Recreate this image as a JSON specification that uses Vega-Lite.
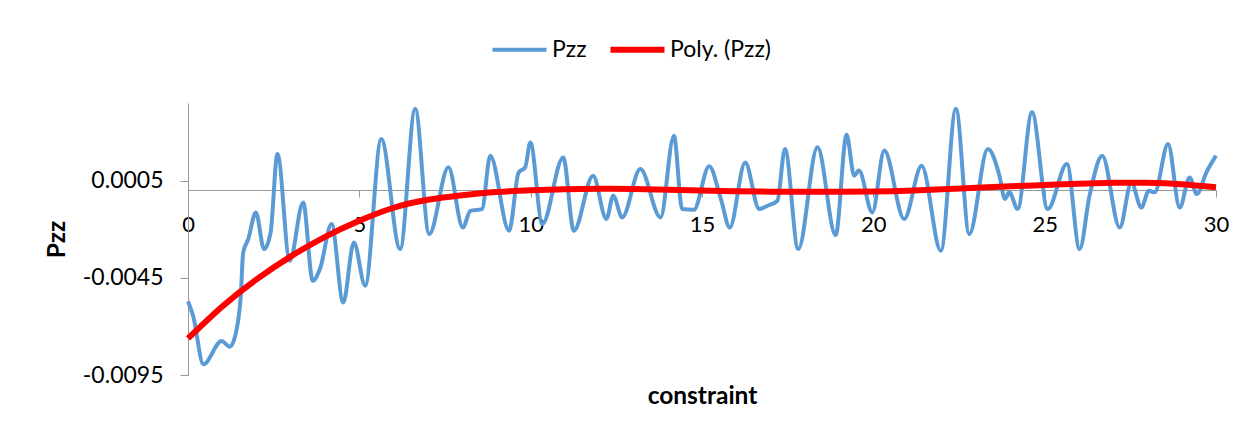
{
  "$schema": "https://vega.github.io/schema/vega-lite/v6.json",
  "autosize": "none",
  "width": 1028,
  "height": 272,
  "padding": {"left": 188, "top": 103, "right": 43, "bottom": 64},
  "background": "white",
  "config": {
    "font": "Lato",
    "view": {"stroke": null},
    "axis": {"grid": false, "domainColor": "#9a9a9a", "tickColor": "#9a9a9a", "labelColor": "#000000", "titleColor": "#000000", "labelFont": "Lato", "titleFont": "Lato"}
  },
  "datasets": {
    "pzz": [
      {"constraint": 0, "value": -0.0057, "series": "Pzz"},
      {"constraint": 0.15, "value": -0.00646, "series": "Pzz"},
      {"constraint": 0.45, "value": -0.00895, "series": "Pzz"},
      {"constraint": 0.98, "value": -0.00775, "series": "Pzz"},
      {"constraint": 1.22, "value": -0.00804, "series": "Pzz"},
      {"constraint": 1.42, "value": -0.00715, "series": "Pzz"},
      {"constraint": 1.54, "value": -0.00543, "series": "Pzz"},
      {"constraint": 1.61, "value": -0.0032, "series": "Pzz"},
      {"constraint": 1.76, "value": -0.0025, "series": "Pzz"},
      {"constraint": 1.98, "value": -0.00113, "series": "Pzz"},
      {"constraint": 2.22, "value": -0.00302, "series": "Pzz"},
      {"constraint": 2.41, "value": -0.00217, "series": "Pzz"},
      {"constraint": 2.61, "value": 0.00188, "series": "Pzz"},
      {"constraint": 2.97, "value": -0.00362, "series": "Pzz"},
      {"constraint": 3.36, "value": -0.00062, "series": "Pzz"},
      {"constraint": 3.64, "value": -0.00465, "series": "Pzz"},
      {"constraint": 3.85, "value": -0.00405, "series": "Pzz"},
      {"constraint": 4.19, "value": -0.00173, "series": "Pzz"},
      {"constraint": 4.53, "value": -0.00577, "series": "Pzz"},
      {"constraint": 4.84, "value": -0.00268, "series": "Pzz"},
      {"constraint": 5.17, "value": -0.0049, "series": "Pzz"},
      {"constraint": 5.64, "value": 0.00265, "series": "Pzz"},
      {"constraint": 6.19, "value": -0.00302, "series": "Pzz"},
      {"constraint": 6.63, "value": 0.0042, "series": "Pzz"},
      {"constraint": 7.04, "value": -0.00225, "series": "Pzz"},
      {"constraint": 7.6, "value": 0.00119, "series": "Pzz"},
      {"constraint": 8.02, "value": -0.00191, "series": "Pzz"},
      {"constraint": 8.24, "value": -0.00105, "series": "Pzz"},
      {"constraint": 8.58, "value": -0.00096, "series": "Pzz"},
      {"constraint": 8.82, "value": 0.00179, "series": "Pzz"},
      {"constraint": 9.37, "value": -0.00208, "series": "Pzz"},
      {"constraint": 9.65, "value": 0.00093, "series": "Pzz"},
      {"constraint": 9.84, "value": 0.00119, "series": "Pzz"},
      {"constraint": 9.99, "value": 0.00247, "series": "Pzz"},
      {"constraint": 10.34, "value": -0.00173, "series": "Pzz"},
      {"constraint": 10.95, "value": 0.0017, "series": "Pzz"},
      {"constraint": 11.26, "value": -0.00208, "series": "Pzz"},
      {"constraint": 11.82, "value": 0.00076, "series": "Pzz"},
      {"constraint": 12.21, "value": -0.00147, "series": "Pzz"},
      {"constraint": 12.41, "value": -0.00027, "series": "Pzz"},
      {"constraint": 12.67, "value": -0.00139, "series": "Pzz"},
      {"constraint": 13.2, "value": 0.0011, "series": "Pzz"},
      {"constraint": 13.79, "value": -0.00139, "series": "Pzz"},
      {"constraint": 14.18, "value": 0.00282, "series": "Pzz"},
      {"constraint": 14.42, "value": -0.00096, "series": "Pzz"},
      {"constraint": 14.76, "value": -0.001, "series": "Pzz"},
      {"constraint": 15.21, "value": 0.00124, "series": "Pzz"},
      {"constraint": 15.55, "value": -0.00044, "series": "Pzz"},
      {"constraint": 15.81, "value": -0.00191, "series": "Pzz"},
      {"constraint": 16.26, "value": 0.00144, "series": "Pzz"},
      {"constraint": 16.67, "value": -0.00096, "series": "Pzz"},
      {"constraint": 16.91, "value": -0.00079, "series": "Pzz"},
      {"constraint": 17.2, "value": -0.00053, "series": "Pzz"},
      {"constraint": 17.42, "value": 0.00213, "series": "Pzz"},
      {"constraint": 17.81, "value": -0.00302, "series": "Pzz"},
      {"constraint": 18.37, "value": 0.00222, "series": "Pzz"},
      {"constraint": 18.9, "value": -0.0023, "series": "Pzz"},
      {"constraint": 19.22, "value": 0.00286, "series": "Pzz"},
      {"constraint": 19.44, "value": 0.00076, "series": "Pzz"},
      {"constraint": 19.58, "value": 0.00102, "series": "Pzz"},
      {"constraint": 19.97, "value": -0.00113, "series": "Pzz"},
      {"constraint": 20.32, "value": 0.00205, "series": "Pzz"},
      {"constraint": 20.9, "value": -0.00147, "series": "Pzz"},
      {"constraint": 21.41, "value": 0.00127, "series": "Pzz"},
      {"constraint": 21.97, "value": -0.00311, "series": "Pzz"},
      {"constraint": 22.41, "value": 0.0042, "series": "Pzz"},
      {"constraint": 22.8, "value": -0.00225, "series": "Pzz"},
      {"constraint": 23.34, "value": 0.00213, "series": "Pzz"},
      {"constraint": 23.68, "value": 0.00076, "series": "Pzz"},
      {"constraint": 23.84, "value": -0.00044, "series": "Pzz"},
      {"constraint": 23.97, "value": -0.0001, "series": "Pzz"},
      {"constraint": 24.21, "value": -0.00096, "series": "Pzz"},
      {"constraint": 24.63, "value": 0.00402, "series": "Pzz"},
      {"constraint": 25.09, "value": -0.00096, "series": "Pzz"},
      {"constraint": 25.65, "value": 0.00136, "series": "Pzz"},
      {"constraint": 26.02, "value": -0.00302, "series": "Pzz"},
      {"constraint": 26.31, "value": -0.00027, "series": "Pzz"},
      {"constraint": 26.68, "value": 0.00179, "series": "Pzz"},
      {"constraint": 27.19, "value": -0.00191, "series": "Pzz"},
      {"constraint": 27.53, "value": 0.00041, "series": "Pzz"},
      {"constraint": 27.82, "value": -0.00088, "series": "Pzz"},
      {"constraint": 28.04, "value": -0.00002, "series": "Pzz"},
      {"constraint": 28.21, "value": -0.0001, "series": "Pzz"},
      {"constraint": 28.6, "value": 0.00239, "series": "Pzz"},
      {"constraint": 28.94, "value": -0.00088, "series": "Pzz"},
      {"constraint": 29.23, "value": 0.00067, "series": "Pzz"},
      {"constraint": 29.44, "value": -0.00019, "series": "Pzz"},
      {"constraint": 29.72, "value": 0.00093, "series": "Pzz"},
      {"constraint": 30, "value": 0.00179, "series": "Pzz"}
    ],
    "poly": [
      {"constraint": 0, "value": -0.007619, "series": "Poly. (Pzz)"},
      {"constraint": 1, "value": -0.005969, "series": "Poly. (Pzz)"},
      {"constraint": 2, "value": -0.004577, "series": "Poly. (Pzz)"},
      {"constraint": 3, "value": -0.003392, "series": "Poly. (Pzz)"},
      {"constraint": 4, "value": -0.002387, "series": "Poly. (Pzz)"},
      {"constraint": 5, "value": -0.001562, "series": "Poly. (Pzz)"},
      {"constraint": 6, "value": -0.000892, "series": "Poly. (Pzz)"},
      {"constraint": 7, "value": -0.000479, "series": "Poly. (Pzz)"},
      {"constraint": 8, "value": -0.000247, "series": "Poly. (Pzz)"},
      {"constraint": 9, "value": -0.000082, "series": "Poly. (Pzz)"},
      {"constraint": 10, "value": 0.00001, "series": "Poly. (Pzz)"},
      {"constraint": 11, "value": 0.000057, "series": "Poly. (Pzz)"},
      {"constraint": 12, "value": 0.000082, "series": "Poly. (Pzz)"},
      {"constraint": 13, "value": 0.000077, "series": "Poly. (Pzz)"},
      {"constraint": 14, "value": 0.000041, "series": "Poly. (Pzz)"},
      {"constraint": 15, "value": -0.000005, "series": "Poly. (Pzz)"},
      {"constraint": 16, "value": -0.000041, "series": "Poly. (Pzz)"},
      {"constraint": 17, "value": -0.000062, "series": "Poly. (Pzz)"},
      {"constraint": 18, "value": -0.000072, "series": "Poly. (Pzz)"},
      {"constraint": 19, "value": -0.000072, "series": "Poly. (Pzz)"},
      {"constraint": 20, "value": -0.000057, "series": "Poly. (Pzz)"},
      {"constraint": 21, "value": -0.000015, "series": "Poly. (Pzz)"},
      {"constraint": 22, "value": 0.000057, "series": "Poly. (Pzz)"},
      {"constraint": 23, "value": 0.000134, "series": "Poly. (Pzz)"},
      {"constraint": 24, "value": 0.000211, "series": "Poly. (Pzz)"},
      {"constraint": 25, "value": 0.000278, "series": "Poly. (Pzz)"},
      {"constraint": 26, "value": 0.000345, "series": "Poly. (Pzz)"},
      {"constraint": 27, "value": 0.000392, "series": "Poly. (Pzz)"},
      {"constraint": 28, "value": 0.000395, "series": "Poly. (Pzz)"},
      {"constraint": 29, "value": 0.000315, "series": "Poly. (Pzz)"},
      {"constraint": 30, "value": 0.00016, "series": "Poly. (Pzz)"}
    ]
  },
  "encoding": {
    "x": {
      "field": "constraint", "type": "quantitative",
      "scale": {"domain": [0, 30], "nice": false, "zero": false},
      "axis": {
        "title": "constraint", "values": [0, 5, 10, 15, 20, 25, 30], "format": "d",
        "offset": -185, "tickSize": 7, "labelFontSize": 22, "labelBaseline": "middle", "labelPadding": 27,
        "labelFlush": false, "labelOverlap": false,
        "titleFontSize": 24.5, "titleFontWeight": "bold", "titleX": 514, "titleY": 206, "titleBaseline": "middle", "titleAlign": "center"
      }
    },
    "y": {
      "field": "value", "type": "quantitative",
      "scale": {"domain": [-0.0095, 0.0045], "nice": false, "zero": false},
      "axis": {
        "title": "Pzz", "values": [-0.0095, -0.0045, 0.0005],
        "labelExpr": "replace(format(datum.value, '.4f'), '\u2212', '-')",
        "tickSize": 8, "labelFontSize": 23, "labelPadding": 17, "labelBaseline": "middle",
        "titleFontSize": 24.5, "titleFontWeight": "bold", "titleAngle": -90, "titleX": -130.5, "titleY": 136, "titleBaseline": "middle", "titleAlign": "center"
      }
    },
    "color": {
      "field": "series", "type": "nominal",
      "scale": {"domain": ["Pzz", "Poly. (Pzz)"], "range": ["#5B9BD5", "#FF0000"]},
      "legend": {
        "title": null, "orient": "none", "direction": "horizontal", "legendX": 320, "legendY": -65,
        "symbolType": "stroke", "symbolSize": 2916, "symbolStrokeWidth": 4,
        "labelFontSize": 23, "labelFont": "Lato", "labelColor": "#000000", "labelOffset": 21, "columnPadding": 11,
        "encode": {"symbols": {"update": {"strokeWidth": {"signal": "datum.value === 'Pzz' ? 4 : 6"}}}}
      }
    }
  },
  "layer": [
    {"data": {"name": "pzz"}, "mark": {"type": "line", "interpolate": "monotone", "strokeWidth": 4}},
    {"data": {"name": "poly"}, "mark": {"type": "line", "interpolate": "natural", "strokeWidth": 6}}
  ]
}
